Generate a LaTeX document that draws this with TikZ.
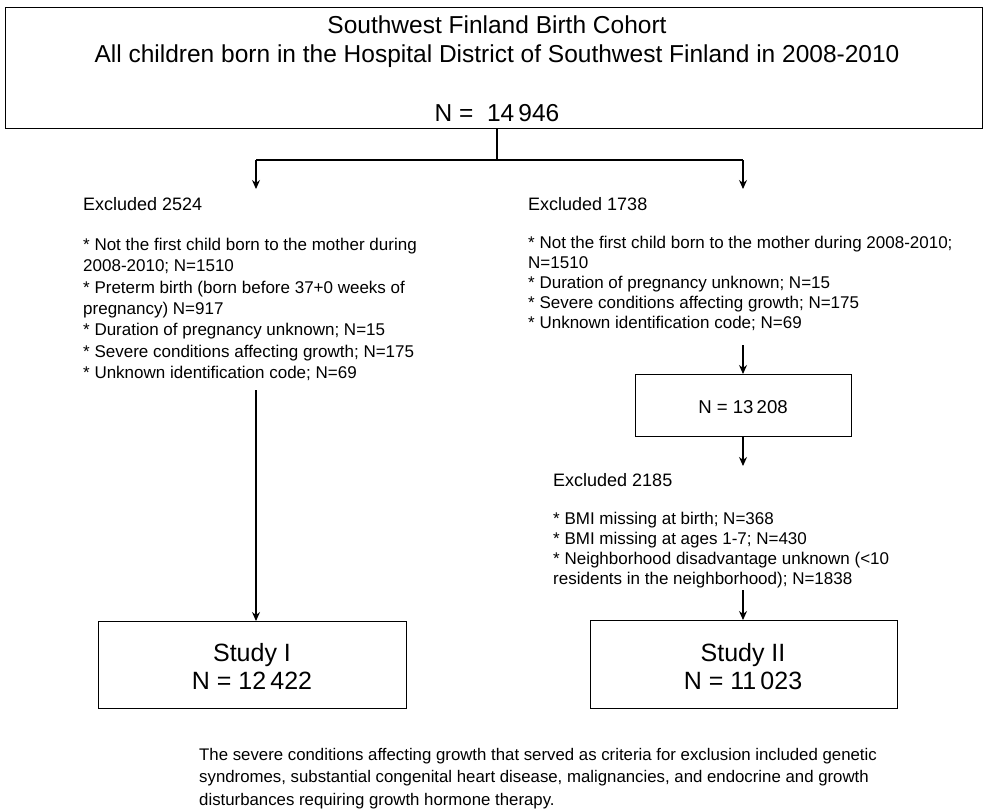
\documentclass[tikz,border=0pt]{standalone}
\usepackage{fontspec}
\setmainfont{Liberation Sans}
\usetikzlibrary{arrows.meta}
\begin{document}
\begin{tikzpicture}[x=1pt,y=-1pt,
  box/.style={draw,line width=1.3pt,inner sep=0pt},
  arr/.style={line width=1.1pt,-{Stealth[length=9pt,width=8pt]}},
  ln/.style={line width=1.1pt},
  txtl/.style={anchor=base west,align=left,inner sep=0pt,font=\fontsize{17}{21.3}\selectfont},
  txtr/.style={anchor=base west,align=left,inner sep=0pt,font=\fontsize{17}{20}\selectfont},
  head/.style={anchor=base west,inner sep=0pt,font=\fontsize{18}{20}\selectfont},
  big/.style={anchor=base,inner sep=0pt,font=\fontsize{25}{30}\selectfont},
  ttl/.style={anchor=base,inner sep=0pt,font=\fontsize{24.5}{30}\selectfont}]
\useasboundingbox (0,0) rectangle (984,808);
\node[box,minimum width=977pt,minimum height=121pt,anchor=north west] (top) at (5,7) {};
\node[ttl] (t1) at (497,33.5) {Southwest Finland Birth Cohort};
\node[ttl] (t1b) at (497,62.5) {All children born in the Hospital District of Southwest Finland in 2008-2010};
\node[ttl] (t2) at (497,121) {N =\ \ 14\,946};
\coordinate (split) at (497,160);
\coordinate (lsplit) at (256,160);
\coordinate (rsplit) at (743,160);
\coordinate (la) at (256,189);
\coordinate (ra) at (743,189);
\draw[ln] (top.south -| split) -- (split);
\draw[ln] (lsplit) -- (rsplit);
\draw[arr] (lsplit) -- (la);
\draw[arr] (rsplit) -- (ra);
% left (base anchor = last line's baseline)
\node[head] (lh) at (83,210) {Excluded 2524};
\node[txtl] (lt) at (83,378.3) {* Not the first child born to the mother during\\2008-2010; N=1510\\* Preterm birth (born before 37+0 weeks of\\pregnancy) N=917\\* Duration of pregnancy unknown; N=15\\* Severe conditions affecting growth; N=175\\* Unknown identification code; N=69};
\node[box,minimum width=308pt,minimum height=87pt,anchor=north west] (s1) at (98,621) {};
\node[big] (s1a) at (252,661) {Study I};
\node[big] (s1b) at (252,689) {N = 12\,422};
\coordinate (lstart) at (256,390);
\draw[arr] (lstart) -- (s1.north -| lstart);
% right
\node[head] (rh) at (528,210) {Excluded 1738};
\node[txtr] (rt) at (528,328.5) {* Not the first child born to the mother during 2008-2010;\\N=1510\\* Duration of pregnancy unknown; N=15\\* Severe conditions affecting growth; N=175\\* Unknown identification code; N=69};
\node[box,minimum width=216pt,minimum height=62pt,anchor=north west] (m) at (635,374) {};
\node[anchor=base,inner sep=0pt,font=\fontsize{18.6}{20}\selectfont] (mt) at (743,413.5) {N = 13\,208};
\coordinate (rstart) at (743,345);
\draw[arr] (rstart) -- (m.north -| rstart);
\coordinate (r2) at (743,466);
\draw[arr] (m.south -| r2) -- (r2);
\node[head] (rh2) at (553,486) {Excluded 2185};
\node[txtr] (rt2) at (553,584.5) {* BMI missing at birth; N=368\\* BMI missing at ages 1-7; N=430\\* Neighborhood disadvantage unknown (<10\\residents in the neighborhood); N=1838};
\node[box,minimum width=307pt,minimum height=88pt,anchor=north west] (s2) at (590,620) {};
\node[big] (s2a) at (743,661) {Study II};
\node[big] (s2b) at (743,689) {N = 11\,023};
\coordinate (rstart2) at (743,590);
\draw[arr] (rstart2) -- (s2.north -| rstart2);
% footnote
\node[anchor=base west,align=left,inner sep=0pt,font=\fontsize{16.8}{22.5}\selectfont] (fn) at (199,805) {The severe conditions affecting growth that served as criteria for exclusion included genetic\\syndromes, substantial congenital heart disease, malignancies, and endocrine and growth\\disturbances requiring growth hormone therapy.};
\end{tikzpicture}
\end{document}
